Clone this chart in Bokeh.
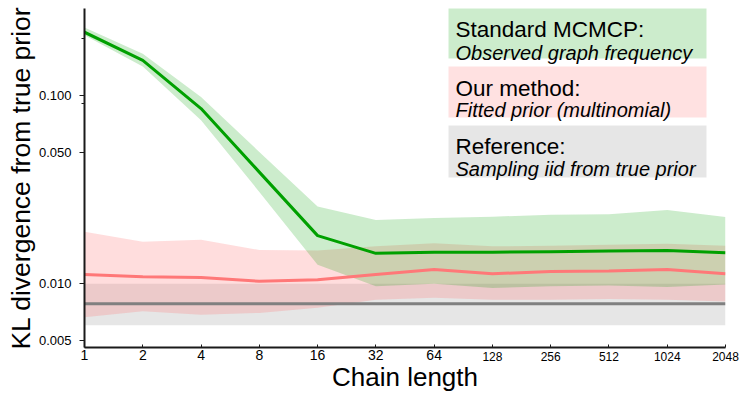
from bokeh.plotting import figure
from bokeh.models import (Range1d, FixedTicker, CustomJSTickFormatter, Label,
                          BoxAnnotation, ColumnDataSource, LogAxis)
from bokeh.embed import file_html
from bokeh.resources import INLINE

# ---------------- data ----------------
chain_length = [1, 2, 4, 8, 16, 32, 64, 128, 256, 512, 1024, 2048]
tick_labels = ["1", "2", "4", "8", "16", "32", "64", "128", "256", "512", "1024", "2048"]

mcmcp_mean = [0.216, 0.153, 0.085, 0.0391, 0.0180, 0.0145, 0.0147, 0.0147, 0.0148, 0.0149, 0.0150, 0.0146]
mcmcp_low = [0.208, 0.142, 0.0737, 0.0307, 0.0126, 0.0097, 0.0100, 0.0095, 0.0097, 0.0098, 0.0096, 0.0099]
mcmcp_high = [0.229, 0.166, 0.098, 0.050, 0.0257, 0.0218, 0.0223, 0.0227, 0.0232, 0.0234, 0.0246, 0.0226]

fitted_mean = [0.0112, 0.0109, 0.0108, 0.0103, 0.0105, 0.0112, 0.0119, 0.0113, 0.0116, 0.0117, 0.0119, 0.0113]
fitted_low = [0.00664, 0.00714, 0.00685, 0.0070, 0.00746, 0.00823, 0.00843, 0.00823, 0.00823, 0.0083, 0.00823, 0.00806]
fitted_high = [0.0189, 0.0167, 0.0171, 0.0151, 0.0150, 0.0158, 0.0164, 0.0158, 0.0159, 0.0161, 0.0163, 0.0159]

ref_mean = [0.00784, 0.00784, 0.00784, 0.00784, 0.00784, 0.00784, 0.00784, 0.00784, 0.00784, 0.00784, 0.00784, 0.00784]
ref_low = [0.00602, 0.00602, 0.00602, 0.00602, 0.00602, 0.00602, 0.00602, 0.00602, 0.00602, 0.00602, 0.00602, 0.00602]
ref_high = [0.0100, 0.0100, 0.0100, 0.0100, 0.0100, 0.0100, 0.0100, 0.0100, 0.0100, 0.0100, 0.0100, 0.0100]

y_ticks = [0.005, 0.010, 0.050, 0.100]
y_minor_ticks = [0.09, 0.2]

x_title = "Chain length"
y_title = "KL divergence from true prior"
legend_titles = ["Standard MCMCP:", "Our method:", "Reference:"]
legend_subtitles = ["Observed graph frequency", "Fitted prior (multinomial)", "Sampling iid from true prior"]

# ---------------- style / layout ----------------
FONT = "Liberation Sans"
GREEN = "#00a000"
RED = "#ff7878"
GREY = "#808080"
AXIS = "#1a1a1a"

W, H = 742, 394
BL, BR, BT, BB = 84, 17, 8, 46
X0, X1 = 1, 2048

src = ColumnDataSource(dict(
    x=chain_length,
    g_m=mcmcp_mean, g_l=mcmcp_low, g_h=mcmcp_high,
    r_m=fitted_mean, r_l=fitted_low, r_h=fitted_high,
    k_m=ref_mean, k_l=ref_low, k_h=ref_high,
))

p = figure(width=W, height=H, x_axis_type="log", y_axis_type="log",
           x_range=Range1d(X0, X1), y_range=Range1d(0.00459, 0.2886),
           output_backend="svg", toolbar_location=None,
           min_border_left=BL, min_border_right=BR, min_border_top=BT, min_border_bottom=BB)
p.outline_line_color = None
p.xgrid.visible = False
p.ygrid.visible = False
p.background_fill_color = "white"
p.border_fill_color = "white"

# bands
p.varea(x="x", y1="k_l", y2="k_h", source=src, fill_color=GREY, fill_alpha=0.2)
p.varea(x="x", y1="r_l", y2="r_h", source=src, fill_color=RED, fill_alpha=0.25)
p.varea(x="x", y1="g_l", y2="g_h", source=src, fill_color=GREEN, fill_alpha=0.2)
# lines
p.line(x="x", y="k_m", source=src, line_color=GREY, line_width=3)
p.line(x="x", y="r_m", source=src, line_color=RED, line_width=3)
p.line(x="x", y="g_m", source=src, line_color=GREEN, line_width=3)

labels_js = "const i = vals.indexOf(tick); return i >= 0 ? labs[i] : '';"
big_labels = [t if x < 100 else "" for x, t in zip(chain_length, tick_labels)]
small_labels = [t if x >= 100 else "" for x, t in zip(chain_length, tick_labels)]

# main x axis: line, inward ticks and the larger tick labels (1 ... 64)
xa = p.xaxis[0]
xa.ticker = FixedTicker(ticks=chain_length, minor_ticks=[])
xa.formatter = CustomJSTickFormatter(args=dict(vals=chain_length, labs=big_labels), code=labels_js)
xa.major_label_text_font = FONT
xa.major_label_text_font_size = "14px"
xa.major_label_text_color = "black"
xa.major_label_standoff = 2
xa.axis_line_color = AXIS
xa.axis_line_width = 2
xa.major_tick_in = 3
xa.major_tick_out = 0
xa.major_tick_line_color = AXIS
xa.minor_tick_line_color = None

# second x axis: the smaller tick labels (128 ... 2048) pulled up onto the same row,
# and the axis title
xb = LogAxis(ticker=FixedTicker(ticks=chain_length, minor_ticks=[]),
             formatter=CustomJSTickFormatter(args=dict(vals=chain_length, labs=small_labels), code=labels_js))
xb.major_label_text_font = FONT
xb.major_label_text_font_size = "12px"
xb.major_label_text_color = "black"
xb.major_label_standoff = -11
xb.axis_line_color = None
xb.major_tick_line_color = None
xb.minor_tick_line_color = None
xb.major_tick_in = 0
xb.major_tick_out = 0
xb.axis_label = x_title
xb.axis_label_text_font = FONT
xb.axis_label_text_font_size = "26px"
xb.axis_label_text_font_style = "normal"
xb.axis_label_text_color = "black"
xb.axis_label_standoff = -2
p.add_layout(xb, "below")

# y axis
ya = p.yaxis[0]
ya.ticker = FixedTicker(ticks=y_ticks, minor_ticks=y_minor_ticks)
ya.formatter = CustomJSTickFormatter(code="return tick.toFixed(3);")
ya.major_label_text_font = FONT
ya.major_label_text_font_size = "13px"
ya.major_label_text_color = "black"
ya.major_label_standoff = 8
ya.axis_line_color = AXIS
ya.axis_line_width = 2
ya.major_tick_in = 0
ya.major_tick_out = 5
ya.minor_tick_in = 0
ya.minor_tick_out = 3
ya.major_tick_line_color = AXIS
ya.minor_tick_line_color = AXIS
ya.axis_label = y_title
ya.axis_label_text_font = FONT
ya.axis_label_text_font_size = "26.5px"
ya.axis_label_text_font_style = "normal"
ya.axis_label_text_color = "black"
ya.axis_label_standoff = 0

# legend boxes (screen units, relative to the frame's bottom-left)
box_colors = [GREEN, RED, GREY]
box_alphas = [0.2, 0.22, 0.2]
box_tops = [340, 281, 222]
box_bottoms = [289, 230, 170]
title_base = [318, 258.7, 200.7]
sub_base = [294.7, 238, 179]
for i in range(3):
    p.add_layout(BoxAnnotation(left=364, right=622, top=box_tops[i], bottom=box_bottoms[i],
                               left_units="screen", right_units="screen",
                               top_units="screen", bottom_units="screen",
                               fill_color=box_colors[i], fill_alpha=box_alphas[i],
                               line_color=None))
    p.add_layout(Label(x=371, y=title_base[i], x_units="screen", y_units="screen",
                       text=legend_titles[i], text_baseline="alphabetic",
                       text_font=FONT, text_font_size="22.5px", text_color="black"))
    p.add_layout(Label(x=371, y=sub_base[i], x_units="screen", y_units="screen",
                       text=legend_subtitles[i], text_baseline="alphabetic",
                       text_font=FONT, text_font_size="20px", text_font_style="italic",
                       text_color="black"))

open("out.html", "w").write(file_html(p, INLINE))
